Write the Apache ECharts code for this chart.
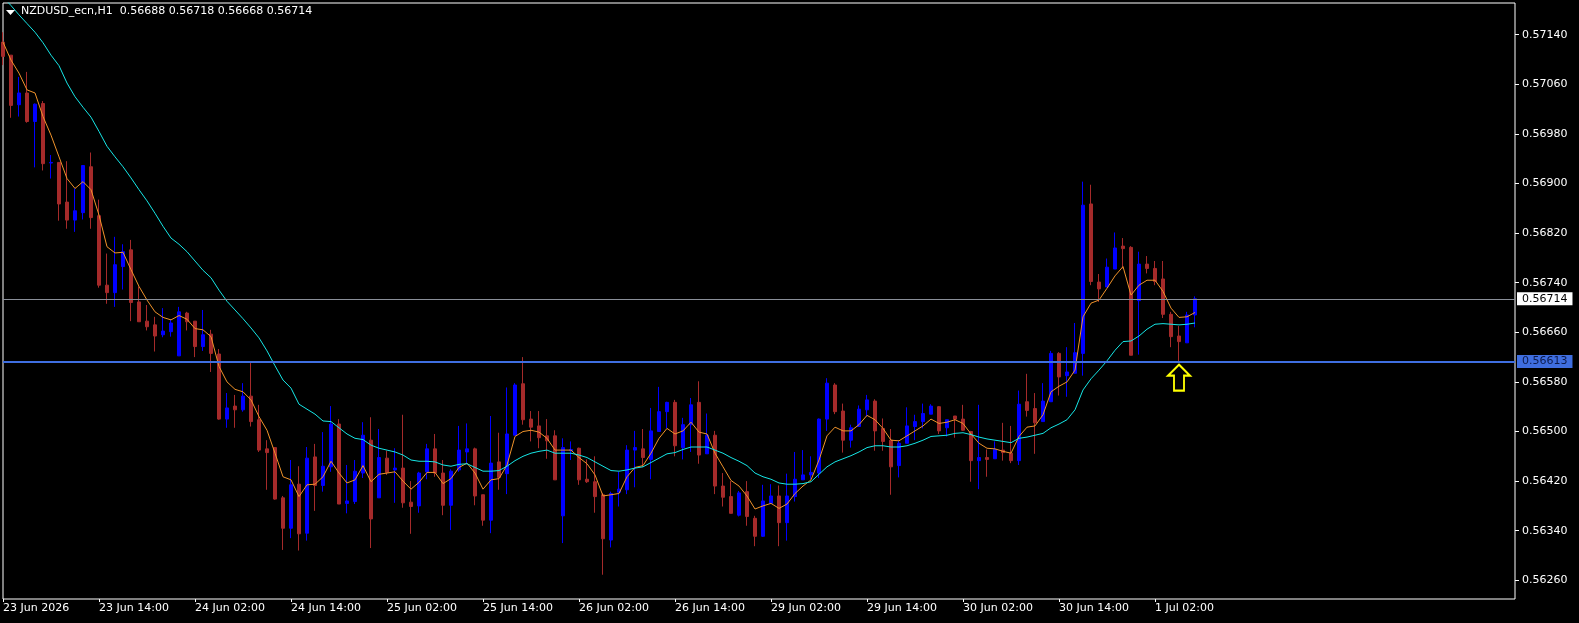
<!DOCTYPE html>
<html>
<head>
<meta charset="utf-8">
<title>NZDUSD_ecn,H1</title>
<script src="https://cdn.jsdelivr.net/npm/echarts@6/dist/echarts.min.js"></script>
<style>
    html, body { margin: 0; padding: 0; background: #000; }
    #chart { width: 1579px; height: 623px; }
</style>
</head>
<body>
<div id="chart"></div>
<script>
var symbolName = 'NZDUSD_ecn,H1';

// H1 bars, 23 Jun 02:00 .. 1 Jul 07:00
var openValues = [
    0.57128, 0.57107, 0.57027, 0.57046, 0.57000, 0.57029, 0.56933, 0.56934, 0.56870, 0.56841,
    0.56853, 0.56927, 0.56848, 0.56736, 0.56724, 0.56766, 0.56793, 0.56709, 0.56678, 0.56672,
    0.56656, 0.56661, 0.56622, 0.56691, 0.56678, 0.56637, 0.56657, 0.56625, 0.56520, 0.56541,
    0.56535, 0.56557, 0.56519, 0.56472, 0.56474, 0.56393, 0.56344, 0.56415, 0.56336, 0.56459,
    0.56413, 0.56443, 0.56512, 0.56384, 0.56387, 0.56433, 0.56486, 0.56393, 0.56457, 0.56438,
    0.56441, 0.56386, 0.56380, 0.56435, 0.56472, 0.56433, 0.56381, 0.56438, 0.56467, 0.56472,
    0.56398, 0.56357, 0.56451, 0.56432, 0.56494, 0.56577, 0.56520, 0.56509, 0.56493, 0.56493,
    0.56364, 0.56469, 0.56473, 0.56423, 0.56419, 0.56398, 0.56325, 0.56402, 0.56406, 0.56470,
    0.56472, 0.56455, 0.56500, 0.56532, 0.56547, 0.56474, 0.56511, 0.56547, 0.56464, 0.56494,
    0.56412, 0.56395, 0.56365, 0.56403, 0.56360, 0.56331, 0.56384, 0.56396, 0.56353, 0.56395,
    0.56422, 0.56430, 0.56433, 0.56520, 0.56575, 0.56533, 0.56486, 0.56508, 0.56535, 0.56549,
    0.56505, 0.56486, 0.56445, 0.56481, 0.56508, 0.56516, 0.56528, 0.56540, 0.56506, 0.56525,
    0.56520, 0.56500, 0.56453, 0.56458, 0.56456, 0.56470, 0.56465, 0.56453, 0.56548, 0.56537,
    0.56516, 0.56548, 0.56626, 0.56590, 0.56594, 0.56626, 0.56867, 0.56741, 0.56733, 0.56762,
    0.56799, 0.56797, 0.56711, 0.56770, 0.56763, 0.56746, 0.56689, 0.56654, 0.56643, 0.56688
];
var highValues = [
    0.57144, 0.57107, 0.57072, 0.57080, 0.57029, 0.57033, 0.56946, 0.56934, 0.56936, 0.56892,
    0.56929, 0.56950, 0.56874, 0.56787, 0.56814, 0.56802, 0.56809, 0.56734, 0.56704, 0.56685,
    0.56699, 0.56681, 0.56701, 0.56693, 0.56678, 0.56696, 0.56664, 0.56633, 0.56562, 0.56559,
    0.56578, 0.56613, 0.56543, 0.56486, 0.56475, 0.56396, 0.56454, 0.56444, 0.56475, 0.56480,
    0.56499, 0.56541, 0.56520, 0.56446, 0.56454, 0.56515, 0.56523, 0.56504, 0.56469, 0.56473,
    0.56527, 0.56420, 0.56435, 0.56480, 0.56496, 0.56454, 0.56439, 0.56509, 0.56513, 0.56474,
    0.56398, 0.56525, 0.56498, 0.56571, 0.56578, 0.56620, 0.56533, 0.56533, 0.56520, 0.56502,
    0.56489, 0.56484, 0.56474, 0.56455, 0.56460, 0.56401, 0.56403, 0.56435, 0.56478, 0.56501,
    0.56504, 0.56538, 0.56572, 0.56548, 0.56551, 0.56522, 0.56554, 0.56581, 0.56529, 0.56501,
    0.56433, 0.56420, 0.56404, 0.56420, 0.56364, 0.56414, 0.56415, 0.56413, 0.56432, 0.56467,
    0.56470, 0.56460, 0.56521, 0.56586, 0.56578, 0.56545, 0.56511, 0.56542, 0.56559, 0.56552,
    0.56521, 0.56504, 0.56485, 0.56539, 0.56527, 0.56545, 0.56544, 0.56541, 0.56519, 0.56525,
    0.56543, 0.56501, 0.56543, 0.56471, 0.56484, 0.56514, 0.56509, 0.56566, 0.56593, 0.56562,
    0.56578, 0.56630, 0.56628, 0.56636, 0.56675, 0.56903, 0.56898, 0.56754, 0.56779, 0.56821,
    0.56812, 0.56799, 0.56790, 0.56783, 0.56775, 0.56775, 0.56693, 0.56670, 0.56693, 0.56718
];
var lowValues = [
    0.57091, 0.57006, 0.57008, 0.56998, 0.56926, 0.56921, 0.56908, 0.56840, 0.56827, 0.56822,
    0.56842, 0.56827, 0.56732, 0.56706, 0.56701, 0.56729, 0.56678, 0.56677, 0.56663, 0.56629,
    0.56652, 0.56653, 0.56622, 0.56663, 0.56620, 0.56630, 0.56596, 0.56519, 0.56506, 0.56506,
    0.56532, 0.56508, 0.56467, 0.56406, 0.56390, 0.56309, 0.56328, 0.56308, 0.56324, 0.56372,
    0.56403, 0.56435, 0.56383, 0.56368, 0.56383, 0.56425, 0.56312, 0.56393, 0.56430, 0.56385,
    0.56377, 0.56335, 0.56369, 0.56423, 0.56427, 0.56365, 0.56341, 0.56435, 0.56449, 0.56381,
    0.56348, 0.56336, 0.56406, 0.56399, 0.56494, 0.56511, 0.56484, 0.56473, 0.56456, 0.56422,
    0.56320, 0.56454, 0.56414, 0.56417, 0.56369, 0.56269, 0.56313, 0.56379, 0.56399, 0.56410,
    0.56443, 0.56423, 0.56500, 0.56505, 0.56460, 0.56455, 0.56467, 0.56448, 0.56464, 0.56399,
    0.56379, 0.56368, 0.56363, 0.56348, 0.56315, 0.56330, 0.56384, 0.56315, 0.56324, 0.56387,
    0.56422, 0.56423, 0.56425, 0.56501, 0.56528, 0.56466, 0.56474, 0.56508, 0.56524, 0.56469,
    0.56469, 0.56398, 0.56426, 0.56481, 0.56486, 0.56505, 0.56528, 0.56496, 0.56492, 0.56490,
    0.56501, 0.56419, 0.56407, 0.56427, 0.56456, 0.56453, 0.56449, 0.56446, 0.56524, 0.56464,
    0.56516, 0.56548, 0.56558, 0.56556, 0.56594, 0.56590, 0.56736, 0.56709, 0.56733, 0.56762,
    0.56763, 0.56623, 0.56624, 0.56755, 0.56736, 0.56683, 0.56636, 0.56611, 0.56643, 0.56668
];
var closeValues = [
    0.57105, 0.57026, 0.57046, 0.57000, 0.57028, 0.56932, 0.56934, 0.56867, 0.56841, 0.56856,
    0.56929, 0.56845, 0.56736, 0.56724, 0.56769, 0.56790, 0.56708, 0.56677, 0.56669, 0.56654,
    0.56662, 0.56675, 0.56693, 0.56677, 0.56637, 0.56656, 0.56626, 0.56520, 0.56538, 0.56535,
    0.56557, 0.56516, 0.56470, 0.56466, 0.56391, 0.56344, 0.56414, 0.56335, 0.56457, 0.56413,
    0.56444, 0.56512, 0.56383, 0.56388, 0.56436, 0.56494, 0.56359, 0.56458, 0.56434, 0.56441,
    0.56385, 0.56379, 0.56433, 0.56472, 0.56433, 0.56381, 0.56436, 0.56470, 0.56472, 0.56396,
    0.56357, 0.56449, 0.56426, 0.56496, 0.56575, 0.56519, 0.56507, 0.56490, 0.56485, 0.56422,
    0.56474, 0.56471, 0.56422, 0.56419, 0.56395, 0.56327, 0.56400, 0.56407, 0.56470, 0.56474,
    0.56458, 0.56501, 0.56532, 0.56547, 0.56477, 0.56511, 0.56543, 0.56462, 0.56494, 0.56412,
    0.56394, 0.56368, 0.56401, 0.56363, 0.56331, 0.56388, 0.56396, 0.56353, 0.56396, 0.56423,
    0.56430, 0.56434, 0.56520, 0.56578, 0.56532, 0.56486, 0.56506, 0.56536, 0.56551, 0.56501,
    0.56484, 0.56443, 0.56481, 0.56509, 0.56516, 0.56529, 0.56541, 0.56501, 0.56519, 0.56520,
    0.56502, 0.56453, 0.56458, 0.56455, 0.56471, 0.56466, 0.56453, 0.56544, 0.56534, 0.56514,
    0.56549, 0.56626, 0.56588, 0.56596, 0.56627, 0.56865, 0.56742, 0.56730, 0.56765, 0.56796,
    0.56795, 0.56623, 0.56770, 0.56763, 0.56742, 0.56689, 0.56653, 0.56645, 0.56688, 0.56714
];

// moving averages as drawn on the chart (orange fast, cyan slow)
var maFastValues = [
    0.57128, 0.57099, 0.57078, 0.57051, 0.57046, 0.57008, 0.56978, 0.56943, 0.56908, 0.56892,
    0.56903, 0.56890, 0.56849, 0.56798, 0.56788, 0.56789, 0.56761, 0.56734, 0.56712, 0.56693,
    0.56684, 0.56680, 0.56687, 0.56681, 0.56666, 0.56664, 0.56653, 0.56605, 0.56580, 0.56568,
    0.56564, 0.56551, 0.56524, 0.56502, 0.56465, 0.56427, 0.56422, 0.56395, 0.56414, 0.56415,
    0.56427, 0.56452, 0.56433, 0.56417, 0.56422, 0.56445, 0.56419, 0.56431, 0.56433, 0.56435,
    0.56420, 0.56407, 0.56418, 0.56434, 0.56434, 0.56416, 0.56424, 0.56442, 0.56449, 0.56433,
    0.56407, 0.56422, 0.56424, 0.56446, 0.56492, 0.56500, 0.56502, 0.56499, 0.56489, 0.56470,
    0.56470, 0.56470, 0.56458, 0.56448, 0.56430, 0.56396, 0.56398, 0.56400, 0.56427, 0.56442,
    0.56445, 0.56465, 0.56489, 0.56505, 0.56496, 0.56501, 0.56515, 0.56499, 0.56496, 0.56465,
    0.56443, 0.56421, 0.56412, 0.56396, 0.56375, 0.56380, 0.56384, 0.56376, 0.56383, 0.56400,
    0.56412, 0.56422, 0.56454, 0.56493, 0.56507, 0.56501, 0.56501, 0.56511, 0.56526, 0.56519,
    0.56505, 0.56486, 0.56485, 0.56493, 0.56501, 0.56509, 0.56520, 0.56513, 0.56515, 0.56519,
    0.56513, 0.56496, 0.56481, 0.56473, 0.56472, 0.56468, 0.56465, 0.56492, 0.56507, 0.56509,
    0.56527, 0.56564, 0.56573, 0.56580, 0.56599, 0.56685, 0.56707, 0.56712, 0.56731, 0.56751,
    0.56766, 0.56720, 0.56736, 0.56744, 0.56744, 0.56726, 0.56699, 0.56684, 0.56685, 0.56692
];
var maSlowValues = [
    0.57201, 0.57187, 0.57172, 0.57158, 0.57144, 0.57127, 0.57107, 0.57090, 0.57062, 0.57040,
    0.57023, 0.57007, 0.56984, 0.56960, 0.56943, 0.56927, 0.56909, 0.56890, 0.56872, 0.56852,
    0.56831, 0.56812, 0.56802, 0.56790, 0.56775, 0.56760, 0.56748, 0.56728, 0.56710, 0.56696,
    0.56682, 0.56667, 0.56651, 0.56630, 0.56606, 0.56583, 0.56570, 0.56544, 0.56536, 0.56528,
    0.56517, 0.56516, 0.56506, 0.56496, 0.56489, 0.56487, 0.56478, 0.56473, 0.56470, 0.56467,
    0.56462, 0.56454, 0.56452, 0.56452, 0.56451, 0.56446, 0.56444, 0.56447, 0.56448, 0.56442,
    0.56436, 0.56436, 0.56437, 0.56444, 0.56453, 0.56460, 0.56465, 0.56468, 0.56470, 0.56465,
    0.56465, 0.56465, 0.56462, 0.56458, 0.56451, 0.56444, 0.56437, 0.56436, 0.56438, 0.56441,
    0.56443, 0.56450, 0.56457, 0.56464, 0.56466, 0.56471, 0.56475, 0.56475, 0.56475, 0.56470,
    0.56465, 0.56458, 0.56452, 0.56445, 0.56433, 0.56427, 0.56423, 0.56417, 0.56415, 0.56415,
    0.56416, 0.56419, 0.56431, 0.56443, 0.56451, 0.56456, 0.56461, 0.56467, 0.56474, 0.56477,
    0.56477, 0.56475, 0.56475, 0.56477, 0.56481, 0.56486, 0.56492, 0.56493, 0.56494, 0.56497,
    0.56498, 0.56495, 0.56491, 0.56488, 0.56486, 0.56484, 0.56482, 0.56489, 0.56491, 0.56494,
    0.56497, 0.56506, 0.56512, 0.56519, 0.56535, 0.56567, 0.56585, 0.56599, 0.56614, 0.56631,
    0.56645, 0.56646, 0.56654, 0.56665, 0.56673, 0.56674, 0.56673, 0.56672, 0.56673, 0.56675
];

// one time label every 12 bars
var timeTickLabels = [
    '23 Jun 2026', '23 Jun 14:00', '24 Jun 02:00', '24 Jun 14:00', '25 Jun 02:00',
    '25 Jun 14:00', '26 Jun 02:00', '26 Jun 14:00', '29 Jun 02:00', '29 Jun 14:00',
    '30 Jun 02:00', '30 Jun 14:00', '1 Jul 02:00'
];
var priceTickLabels = [0.5626, 0.5634, 0.5642, 0.5650, 0.5658, 0.5666, 0.5674, 0.5682, 0.5690, 0.5698, 0.5706, 0.5714];

var bidPrice = 0.56714;
var levelPrice = 0.56613;
var arrowBar = 147;

var labelStep = 12;
var totalSlots = 190;   // bars plus the empty space on the right

var myChart = echarts.init(document.getElementById('chart'));

var slots = [];
for (var i = 0; i < totalSlots; i++) {
    slots.push(String(i));
}

var candles = [];
for (var i = 0; i < openValues.length; i++) {
    candles.push([openValues[i], closeValues[i], lowValues[i], highValues[i]]);
}

var last = openValues.length - 1;
var headerText = symbolName + '  ' + [openValues[last], highValues[last], lowValues[last], closeValues[last]]
    .map(function (v) { return v.toFixed(5); }).join(' ');

function isTimeTick(index) {
    return index % labelStep === 0 && index / labelStep < timeTickLabels.length;
}

var font = 'DejaVu Sans';

function priceLine(value, lineColor, lineWidth, textColor, boxColor) {
    return {
        yAxis: value,
        lineStyle: {color: lineColor, width: lineWidth, type: 'solid'},
        label: {
            position: 'end',
            distance: 2,
            formatter: function () { return value.toFixed(5); },
            color: textColor,
            backgroundColor: boxColor,
            padding: [1, 5, 1, 5],
            fontSize: 11,
            fontFamily: font
        }
    };
}

var option = {
    backgroundColor: '#000',
    animation: false,
    textStyle: {fontFamily: font},
    grid: {
        left: 2,
        right: 64,
        top: 3,
        bottom: 24,
        show: true,
        borderColor: '#ffffff',
        borderWidth: 1,
        backgroundColor: '#000'
    },
    graphic: [
        {
            type: 'polygon',
            shape: {points: [[6, 10], [15, 10], [10.5, 15]]},
            style: {fill: '#ffffff'},
            z: 100
        },
        {
            type: 'text',
            left: 21,
            top: 6,
            style: {text: headerText, fill: '#ffffff', font: '11px "DejaVu Sans"'},
            z: 100
        }
    ],
    xAxis: {
        type: 'category',
        data: slots,
        boundaryGap: false,
        axisLine: {show: false},
        axisTick: {
            show: true,
            length: 3,
            interval: function (index) { return isTimeTick(index); },
            lineStyle: {color: '#ffffff'}
        },
        axisLabel: {
            interval: function (index) { return isTimeTick(index); },
            formatter: function (value, index) {
                return timeTickLabels[index / labelStep] || '';
            },
            align: 'left',
            color: '#ffffff',
            fontSize: 11,
            margin: 4
        },
        splitLine: {show: false}
    },
    yAxis: {
        type: 'value',
        position: 'right',
        min: 0.5622984,
        max: 0.5719113,
        axisLine: {show: false},
        axisTick: {
            show: true,
            length: 4,
            customValues: priceTickLabels,
            lineStyle: {color: '#ffffff'}
        },
        axisLabel: {
            customValues: priceTickLabels,
            formatter: function (v) { return v.toFixed(5); },
            color: '#ffffff',
            fontSize: 11,
            margin: 7
        },
        splitLine: {show: false}
    },
    series: [
        {
            name: symbolName,
            type: 'candlestick',
            data: candles,
            barWidth: 4,
            itemStyle: {
                color: '#0000ff',
                color0: '#a52a2a',
                borderColor: '#0000ff',
                borderColor0: '#a52a2a',
                borderWidth: 1
            },
            markPoint: {
                silent: true,
                animation: false,
                data: [
                    {
                        coord: [arrowBar, lowValues[arrowBar]],
                        symbol: 'path://M11,0 L22,11 L16,11 L16,26 L6,26 L6,11 L0,11 Z',
                        symbolSize: [22, 26],
                        symbolOffset: [0, 15],
                        itemStyle: {color: 'rgba(0,0,0,0)', borderColor: '#ffff00', borderWidth: 2},
                        label: {show: false}
                    }
                ]
            }
        },
        {
            name: 'MA fast',
            type: 'line',
            data: maFastValues,
            showSymbol: false,
            z: 3,
            lineStyle: {color: '#f0932b', width: 1},
            markLine: {
                silent: true,
                precision: 5,
                symbol: ['none', 'none'],
                animation: false,
                data: [
                    priceLine(bidPrice, '#8a8f99', 1, '#000000', '#ffffff'),
                    priceLine(levelPrice, '#3f6ee0', 2, '#0d1b4c', '#3f6ee0')
                ]
            }
        },
        {
            name: 'MA slow',
            type: 'line',
            data: maSlowValues,
            showSymbol: false,
            z: 3,
            lineStyle: {color: '#16e6e6', width: 1}
        }
    ]
};

myChart.setOption(option);
</script>
</body>
</html>
